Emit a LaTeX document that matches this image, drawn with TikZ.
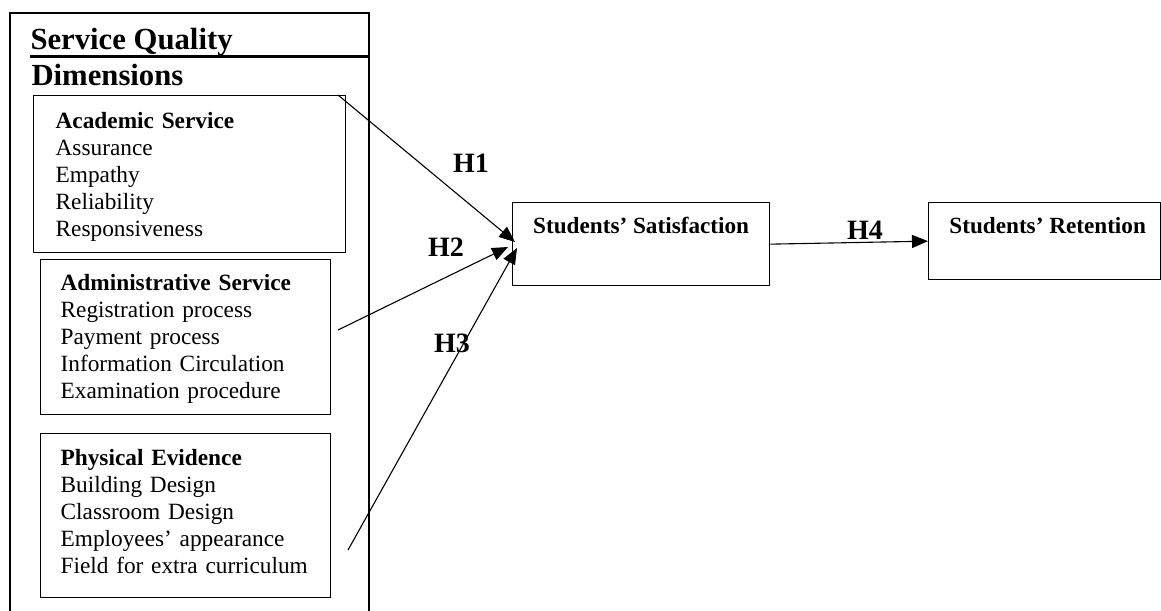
\documentclass[tikz,border=0pt]{standalone}
\usepackage{fontspec}
\setmainfont{Liberation Serif}
\usetikzlibrary{arrows.meta}
\begin{document}
\begin{tikzpicture}[x=1pt, y=-1pt,
  dimbox/.style={draw, line width=1.3pt, rectangle, anchor=north west, align=left, inner ysep=0pt, font=\fontsize{23.3}{27}\selectfont},
  boxname/.style={anchor=base, font=\bfseries\fontsize{23.2}{27}\selectfont},
  hyp/.style={anchor=base, font=\bfseries\fontsize{28}{30}\selectfont},
  title/.style={anchor=base west, font=\bfseries\fontsize{30.7}{34}\selectfont},
  link/.style={-{Triangle[length=16pt,width=13pt]}, line width=1.1pt, draw=black}]
\useasboundingbox (0,0) rectangle (1161,610);
% outer frame of the dimensions
\draw[line width=1.3pt] (10,615) |- (369,13) -- (369,615);
\node[title] (sqtop) at (27,50) {Service Quality};
\node[title] (sqbot) at (28,85) {Dimensions};
\draw[line width=3pt] (30,56.5) -- (369,56.5);
\node[dimbox, minimum width=312pt, minimum height=157pt, inner xsep=22pt, text width=268pt] (acad) at (33,95) {\textbf{Academic Service}\rule{0pt}{22pt}\\Assurance\\Empathy\\Reliability\\Responsiveness};
\node[dimbox, minimum width=290pt, minimum height=155pt, inner xsep=20pt, text width=250pt] (admin) at (40,259) {\textbf{Administrative Service}\rule{0pt}{20pt}\\Registration process\\Payment process\\Information Circulation\\Examination procedure};
\node[dimbox, minimum width=290pt, minimum height=164pt, inner xsep=20pt, text width=250pt] (phys) at (40,433) {\textbf{Physical Evidence}\\Building Design\\Classroom Design\\Employees’ appearance\\Field for extra curriculum\rule[-9pt]{0pt}{0pt}};
\node[dimbox, minimum width=257pt, minimum height=83pt] (sat) at (512,202) {};
\node[boxname] (satname) at ([yshift=-31pt]sat.north) {Students’ Satisfaction};
\node[dimbox, minimum width=232pt, minimum height=77pt] (ret) at (928,202) {};
\node[boxname] (retname) at ([xshift=3pt,yshift=-31pt]ret.north) {Students’ Retention};
% loose ends of the hypotheses
\coordinate (h1s) at (338,95);
\coordinate (h2s) at (338,330);
\coordinate (h3s) at (348,550);
\coordinate (h1e) at (515,242);
\coordinate (h2e) at (508,247);
\coordinate (h3e) at (517,248);
\path (h1s) edge[link] (h1e);
\path (h2s) edge[link] (h2e);
\path (h3s) edge[link] (h3e);
\path (sat.east) edge[link] (ret.west);
\node[hyp] (h1) at (471,172) {H1};
\node[hyp] (h2) at (446,256) {H2};
\node[hyp] (h3) at (452,352) {H3};
\node[hyp] (h4) at (865,239) {H4};
\end{tikzpicture}
\end{document}
